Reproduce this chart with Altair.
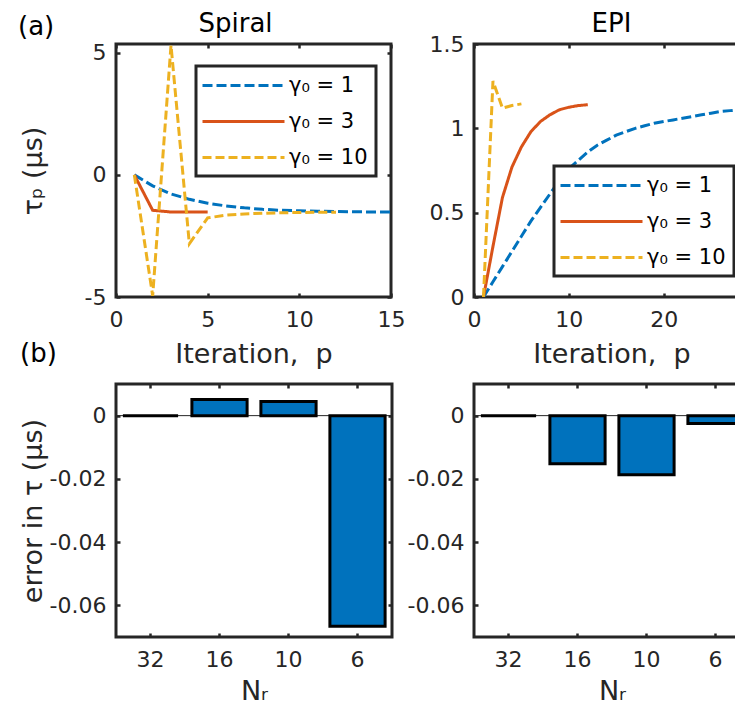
import altair as alt
import pandas as pd

# ---------------- data ----------------
gamma_labels = ["γ₀ = 1", "γ₀ = 3", "γ₀ = 10"]
line_colors = ["#0072BD", "#D95319", "#EDB120"]
line_dashes = [[10, 4], [1, 0], [9, 4]]

spiral_p1 = list(range(1, 16))
spiral_tau1 = [0, -0.45, -0.78, -1.0, -1.16, -1.27, -1.35, -1.41, -1.45, -1.47,
               -1.49, -1.50, -1.51, -1.52, -1.52]
spiral_p3 = [1, 2, 3, 4, 5]
spiral_tau3 = [0, -1.45, -1.52, -1.52, -1.52]
spiral_p10 = list(range(1, 13))
spiral_tau10 = [0, -4.95, 5.30, -2.82, -1.76, -1.65, -1.60, -1.57, -1.55, -1.54,
                -1.53, -1.53]

epi_p1 = list(range(1, 31))
epi_tau1 = [0, 0.09, 0.18, 0.27, 0.36, 0.45, 0.53, 0.61, 0.69, 0.76,
            0.81, 0.86, 0.90, 0.93, 0.96, 0.98, 1.00, 1.015, 1.03, 1.04,
            1.05, 1.06, 1.07, 1.08, 1.09, 1.10, 1.105, 1.11, 1.12, 1.125]
epi_p3 = list(range(1, 13))
epi_tau3 = [0, 0.30, 0.59, 0.77, 0.89, 0.98, 1.04, 1.08, 1.11, 1.125, 1.135, 1.14]
epi_p10 = [1, 2, 3, 4, 5]
epi_tau10 = [0, 1.28, 1.12, 1.135, 1.145]

nr_labels = ["32", "16", "10", "6"]
spiral_err = [0.0, 0.0051, 0.0045, -0.0666]
epi_err = [0.0, -0.0152, -0.0187, -0.0025]

panel_titles = ["Spiral", "EPI"]
panel_tags = ["(a)", "(b)"]


def long_df(ps, taus):
    rows = []
    for lab, p, t in zip(gamma_labels, ps, taus):
        for pi, ti in zip(p, t):
            rows.append({"p": pi, "tau": ti, "gamma": lab})
    return pd.DataFrame(rows)


spiral_df = long_df([spiral_p1, spiral_p3, spiral_p10],
                    [spiral_tau1, spiral_tau3, spiral_tau10])
epi_df = long_df([epi_p1, epi_p3, epi_p10], [epi_tau1, epi_tau3, epi_tau10])
spiral_bar = pd.DataFrame({"nr": nr_labels, "err": spiral_err})
epi_bar = pd.DataFrame({"nr": nr_labels, "err": epi_err})

# ---------------- styling ----------------
FONT = "DejaVu Sans"
DARK = "#262626"
W, H = 275, 253

base_axis = dict(domain=False, grid=False, ticks=True, tickSize=4, tickWidth=2.5,
                 tickColor=DARK, offset=-4, labelFont=FONT, labelFontSize=22,
                 labelColor=DARK, labelFlush=False, labelOverlap=False,
                 labelAngle=0,
                 titleFont=FONT, titleFontSize=27, titleColor=DARK,
                 titleFontWeight="normal")


def bottom_axis(values, title, ty):
    kw = dict(base_axis)
    if values is not None:
        kw["values"] = values
        kw["labelExpr"] = "toString(datum.value)"
    return alt.Axis(orient="bottom", labelPadding=12, title=title,
                    titleY=ty, titleBaseline="alphabetic", **kw)


def left_axis(values, title):
    kw = dict(base_axis)
    kw["values"] = values
    kw["labelExpr"] = "toString(datum.value)"
    if title is None:
        return alt.Axis(orient="left", labelPadding=10, title=None, **kw)
    return alt.Axis(orient="left", labelPadding=10, title=title,
                    titleX=-87, titleBaseline="middle", **kw)


def ghost_axis(orient, values):
    kw = dict(domain=False, grid=False, ticks=True, tickSize=4, tickWidth=2.5,
              tickColor=DARK, offset=-4, labels=False, title=None)
    if values is not None:
        kw["values"] = values
    return alt.Axis(orient=orient, **kw)


def legend(ly):
    return alt.Legend(orient="none", legendX=80, legendY=ly, title=None,
                      symbolType="M-4.1,0H4.1", symbolSize=400, symbolStrokeWidth=3,
                      symbolOffset=28, labelOffset=34, labelFontSize=21,
                      labelFont=FONT, labelColor="black", padding=8,
                      rowPadding=14, fillColor="white", strokeColor=DARK)


def label_text(txt, x, y, align="left", baseline="middle", size=26):
    return alt.Chart(pd.DataFrame({"t": [txt]})).mark_text(
        align=align, baseline=baseline, fontSize=size, font=FONT, color="black"
    ).encode(x=alt.value(x), y=alt.value(y), text="t:N")


def line_panel(df, xdom, xvals, ydom, yvals, ytitle, title, tdx, ly, tag):
    xs = alt.Scale(domain=xdom, nice=False, zero=False)
    ys = alt.Scale(domain=ydom, nice=False, zero=False)
    enc_color = alt.Color("gamma:N",
                          scale=alt.Scale(domain=gamma_labels, range=line_colors),
                          legend=legend(ly))
    enc_dash = alt.StrokeDash("gamma:N",
                              scale=alt.Scale(domain=gamma_labels, range=line_dashes),
                              legend=legend(ly))
    lines = alt.Chart(df).mark_line(strokeWidth=3, clip=True).encode(
        x=alt.X("p:Q", scale=xs,
                axis=bottom_axis(xvals, "Iteration,\u00a0\u00a0p", 69)),
        y=alt.Y("tau:Q", scale=ys, axis=left_axis(yvals, ytitle)),
        color=enc_color,
        strokeDash=enc_dash,
        order=alt.Order("p:Q"),
    )
    ghost = alt.Chart(df).mark_point(opacity=0, clip=True).encode(
        x=alt.X("p:Q", scale=xs, axis=ghost_axis("top", xvals)),
        y=alt.Y("tau:Q", scale=ys, axis=ghost_axis("right", yvals)),
    )
    layers = [lines, ghost,
              label_text(title, W / 2 + tdx, -12, align="center",
                         baseline="alphabetic", size=26)]
    if tag:
        layers.append(label_text(tag, -98, -17))
    return alt.layer(*layers).properties(width=W, height=H)


def bar_panel(df, ytitle, tag):
    xs = alt.Scale(domain=nr_labels, paddingInner=0.2, paddingOuter=0.1)
    ys = alt.Scale(domain=[-0.07, 0.01], nice=False, zero=False)
    yvals = [-0.06, -0.04, -0.02, 0]
    zero = alt.Chart(pd.DataFrame({"z": [0]})).mark_rule(
        color=DARK, strokeWidth=1).encode(y=alt.Y("z:Q", scale=ys, axis=None))
    bars = alt.Chart(df).mark_bar(color="#0072BD", stroke="black",
                                  strokeWidth=3).encode(
        x=alt.X("nr:N", sort=nr_labels, scale=xs,
                axis=bottom_axis(None, "Nᵣ", 66)),
        y=alt.Y("err:Q", scale=ys, axis=left_axis(yvals, ytitle)),
    )
    ghost = alt.Chart(df).mark_point(opacity=0).encode(
        x=alt.X("nr:N", sort=nr_labels, scale=xs, axis=ghost_axis("top", None)),
        y=alt.Y("err:Q", scale=ys, axis=ghost_axis("right", yvals)),
    )
    layers = [zero, bars, ghost]
    if tag:
        layers.append(label_text(tag, -96, -30))
    return alt.layer(*layers).properties(width=W + 1, height=H)


p1 = line_panel(spiral_df, [0, 15], [0, 5, 10, 15], [-5, 5.36], [-5, 0, 5],
                "τₚ (μs)", panel_titles[0], -18, 22, panel_tags[0])
p2 = line_panel(epi_df, [0, 29], [0, 10, 20], [0, 1.5], [0, 0.5, 1, 1.5],
                None, panel_titles[1], 0, 122, None)
p3 = bar_panel(spiral_bar, "error in τ (μs)", panel_tags[1])
p4 = bar_panel(epi_bar, None, None)

chart = alt.concat(p1, p2, p3, p4, columns=2,
                   spacing=alt.RowColnumber(row=87, column=82),
                   bounds="flush").resolve_legend(
    color="independent", strokeDash="independent"
).properties(
    autosize=alt.AutoSizeParams(type="none"),
    padding={"left": 108, "top": 36, "right": 619, "bottom": 661}
).configure(font=FONT).configure_view(
    stroke=DARK, strokeWidth=3
).configure_legend(strokeWidth=3)

chart.save("out.html", embed_options={"renderer": "svg", "actions": False})
